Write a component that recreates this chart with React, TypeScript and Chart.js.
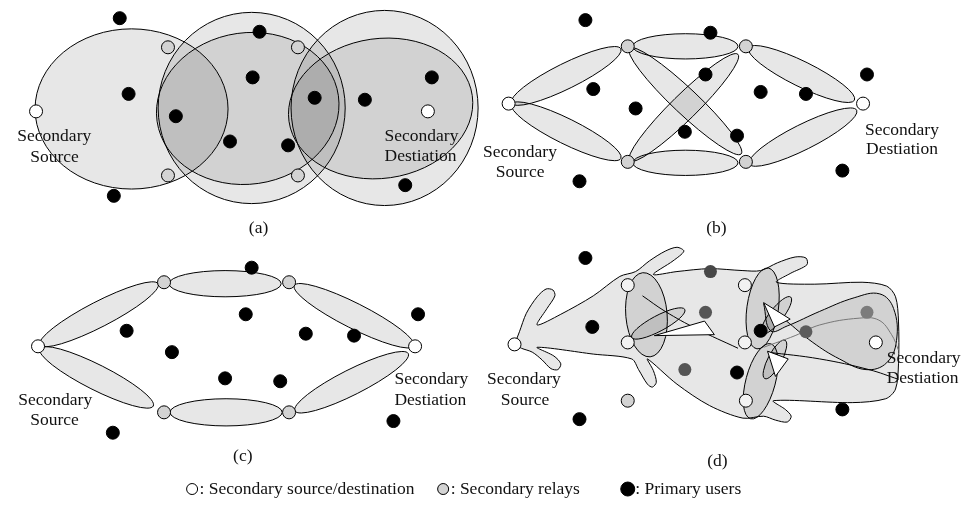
import React, { useEffect, useRef } from "react";
import { Chart, registerables } from "chart.js";

Chart.register(...registerables);

type P = [number, number];

// ---- node positions (diagram units = reference pixels) ----
const primaryUsers: P[] = [
  // (a)
  [114, 11], [256, 25], [123, 89], [249, 72], [171, 112], [226, 138], [285, 142], [312, 93], [363, 95], [431, 72], [404, 183], [108, 194],
  // (b)
  [587, 13], [714, 26], [595, 84], [638, 104], [709, 69], [688, 128], [741, 132], [765, 87], [811, 89], [873, 69], [848, 168], [581, 179],
  // (c)
  [248, 268], [242, 316], [121, 333], [167, 355], [303, 336], [352, 338], [417, 316], [221, 382], [277, 385], [392, 426], [107, 438],
  // (d)
  [587, 258], [594, 329], [765, 333], [741, 376], [848, 414], [581, 424],
];
const shadedUsers: P[] = [[714, 272], [709, 314], [688, 373], [811, 334], [873, 314]];
const shadedColors = ["#474747", "#555555", "#555555", "#5c5c5c", "#7c7c7c"];
const relays: P[] = [
  [163, 41], [163, 173], [295, 41], [295, 173],
  [630, 40], [750, 40], [630, 159], [750, 159],
  [159, 283], [286, 283], [159, 417], [286, 417],
  [630, 405],
];
const lightRelays: P[] = [[630, 286], [749, 286], [630, 345], [749, 345], [750, 405]];
const endpoints: P[] = [
  [29, 107], [427, 107],
  [509, 99], [869, 99],
  [31, 349], [414, 349],
  [515, 347], [882, 345],
];

// ---- coverage ellipses: [cx, cy, rx, ry, rotationDeg] ----
const ellipsesA: number[][] = [
  [126, 104.5, 98, 82.5, 0],
  [248, 103.5, 95, 98.5, 0],
  [244, 104, 93, 78, -8],
  [383, 103.5, 95, 100.5, 0],
  [379, 104, 94, 72, -8],
];
const ellipsesB: number[][] = [
  [567.5, 70.5, 62, 13, -26.4],
  [567.5, 127.5, 62, 13, 26.4],
  [688.5, 40, 53.5, 13, 0],
  [688.5, 160, 53.5, 13, 0],
  [688.5, 96.5, 78, 13, 43.4],
  [687, 103, 77, 13, -44.5],
  [806.5, 68.5, 60, 13, 26.3],
  [808, 133.5, 61, 13, -26.6],
];
const ellipsesC: number[][] = [
  [93, 316, 67.5, 13, -27.3],
  [90.5, 381, 64.5, 13, 26.8],
  [221, 284.5, 57, 13.5, 0],
  [222, 417, 57, 14, 0],
  [352, 317.5, 68, 13, 26.8],
  [349.5, 386, 64.5, 13, -26.8],
];
const ellipsesD: number[][] = [
  [649, 316.5, 21, 43.5, -5],
  [767, 310, 16, 42, 8],
  [765, 385, 15, 40, 15],
  [661, 325.5, 30.5, 8, -28],
  [781, 317, 23.5, 7, -52],
  [779.5, 362.5, 22, 7, -62],
];

// ---- free-form regions of panel (d) ----
const blobMain: P[] = [
  [515, 347], [520, 334], [527, 315], [538, 298], [547, 290], [554, 291], [556, 297], [548, 310], [538, 327],
  [562, 316], [595, 297], [622, 277], [638, 272],
  [652, 261], [668, 251], [680, 247], [687, 251], [676, 261], [656, 275],
  [680, 272], [713, 269], [747, 271], [765, 271],
  [782, 263], [800, 257], [811, 258], [812, 265], [795, 274], [781, 283],
  [820, 285], [868, 283], [893, 287], [902, 298], [905, 323], [905, 367], [902, 393], [892, 403],
  [858, 407], [778, 405],
  [790, 414], [796, 421], [792, 427], [780, 425], [768, 421],
  [747, 423], [713, 410], [680, 388], [650, 362],
  [656, 374], [659, 386], [655, 391], [650, 388], [641, 373], [634, 362],
  [595, 357], [538, 350],
  [555, 359], [562, 367], [559, 373], [552, 372], [543, 363], [533, 355],
  [522, 351], [515, 347],
];
const fishLoop: P[] = [
  [768, 305], [790, 322], [818, 345], [845, 362], [872, 373], [893, 366], [903, 343], [900, 310],
  [886, 295], [860, 299], [825, 313], [792, 328], [775, 333], [768, 305],
];
const grayCurve: P[] = [[768, 350], [800, 338], [825, 327], [865, 320], [885, 322], [898, 337], [905, 353]];
const blackLine2: P[] = [[772, 355], [825, 362], [875, 373], [905, 383]];
const diagLine: P[] = [[645, 297], [668, 313], [700, 331], [742, 351]];
const wedge1: P[] = [[657, 338], [708, 323], [718, 337], [657, 338]];
const wedge2: P[] = [[768, 304], [795, 321], [779, 329], [768, 304]];
const wedge3: P[] = [[772, 354], [793, 362], [780, 380], [772, 354]];

// ---- texts ----
const nodeLabels: [string, number, number][] = [
  ["Secondary", 10, 138], ["Source", 23, 159],
  ["Secondary", 383, 137], ["Destiation", 383, 158],
  ["Secondary", 483, 154], ["Source", 496, 175],
  ["Secondary", 871, 131], ["Destiation", 872, 151],
  ["Secondary", 11, 409], ["Source", 23, 430],
  ["Secondary", 393, 388], ["Destiation", 393, 409],
  ["Secondary", 487, 388], ["Source", 501, 409],
  ["Secondary", 893, 366], ["Destiation", 893, 387],
];
const captions: [string, number, number][] = [
  ["(a)", 255, 232], ["(b)", 720, 232], ["(c)", 239, 467], ["(d)", 721, 472],
];
const legendItems: [string, string, number, number][] = [
  [": Secondary source/destination", "#ffffff", 187.5, 5.5],
  [": Secondary relays", "#d3d3d3", 442.5, 5.5],
  [": Primary users", "#000000", 630, 7],
];

const FONT = '17.5px "Liberation Serif", "Times New Roman", serif';
const FILL = "rgba(0,0,0,0.095)";

const toXY = (pts: P[]) => pts.map(([x, y]) => ({ x, y }));

function drawEllipses(chart: any, list: number[][]) {
  const { ctx } = chart;
  const xs = chart.scales.x;
  const ys = chart.scales.y;
  ctx.save();
  ctx.lineWidth = 1;
  for (const [cx, cy, rx, ry, rot] of list) {
    const px = xs.getPixelForValue(cx);
    const py = ys.getPixelForValue(cy);
    const prx = Math.abs(xs.getPixelForValue(cx + rx) - px);
    const pry = Math.abs(ys.getPixelForValue(cy + ry) - py);
    ctx.beginPath();
    ctx.ellipse(px, py, prx, pry, (rot * Math.PI) / 180, 0, Math.PI * 2);
    ctx.fillStyle = FILL;
    ctx.fill();
    ctx.strokeStyle = "#000";
    ctx.stroke();
  }
  ctx.restore();
}

const BLOB_INDEX = 12;

const diagramPlugin = {
  id: "diagramPlugin",
  beforeDatasetsDraw(chart: any) {
    drawEllipses(chart, ellipsesA);
    drawEllipses(chart, ellipsesB);
    drawEllipses(chart, ellipsesC);
  },
  afterDatasetDraw(chart: any, args: any) {
    if (args.index === BLOB_INDEX) drawEllipses(chart, ellipsesD);
  },
  afterDraw(chart: any) {
    const { ctx } = chart;
    const xs = chart.scales.x;
    const ys = chart.scales.y;
    ctx.save();
    ctx.font = FONT;
    ctx.fillStyle = "#111";
    ctx.textBaseline = "alphabetic";
    ctx.textAlign = "left";
    for (const [t, x, y] of nodeLabels) ctx.fillText(t, xs.getPixelForValue(x), ys.getPixelForValue(y));
    ctx.textAlign = "center";
    for (const [t, x, y] of captions) ctx.fillText(t, xs.getPixelForValue(x), ys.getPixelForValue(y));
    ctx.textAlign = "left";
    for (const [t, color, x, r] of legendItems) {
      const px = xs.getPixelForValue(x);
      const py = ys.getPixelForValue(496);
      ctx.beginPath();
      ctx.arc(px, py, r, 0, Math.PI * 2);
      ctx.fillStyle = color;
      ctx.fill();
      ctx.lineWidth = 1;
      ctx.strokeStyle = "#000";
      ctx.stroke();
      ctx.fillStyle = "#111";
      ctx.fillText(t, px + 7.5, ys.getPixelForValue(501));
    }
    ctx.restore();
  },
};

const pointSet = (data: P[], bg: string | string[], border: string, r = 6.5) => ({
  data: toXY(data),
  showLine: false,
  pointRadius: r,
  pointBackgroundColor: bg,
  pointBorderColor: border,
  pointBorderWidth: 1,
  fill: false,
});

const shapeSet = (data: P[], bg: string | false, border: string, tension: number) => ({
  data: toXY(data),
  showLine: true,
  pointRadius: 0,
  borderColor: border,
  borderWidth: 1,
  backgroundColor: bg || "rgba(0,0,0,0)",
  fill: bg ? "shape" : false,
  tension,
});

export default function App() {
  const ref = useRef<HTMLCanvasElement | null>(null);
  useEffect(() => {
    if (!ref.current) return;
    const chart = new Chart(ref.current, {
      type: "line",
      data: {
        datasets: [
          pointSet(primaryUsers, "#000", "#000"),
          pointSet(shadedUsers, shadedColors, "rgba(0,0,0,0)"),
          pointSet(relays, "#d3d3d3", "#000"),
          pointSet(lightRelays, "#f2f2f2", "#000"),
          pointSet(endpoints, "#ffffff", "#000"),
          shapeSet(wedge3, "#ffffff", "#000", 0),
          shapeSet(wedge2, "#ffffff", "#000", 0),
          shapeSet(wedge1, "#ffffff", "#000", 0),
          shapeSet(diagLine, false, "#000", 0.4),
          shapeSet(blackLine2, false, "#000", 0.4),
          shapeSet(grayCurve, false, "#777", 0.4),
          shapeSet(fishLoop, FILL, "#000", 0.4),
          shapeSet(blobMain, FILL, "#000", 0.3),
        ] as any,
      },
      options: {
        animation: false,
        responsive: false,
        devicePixelRatio: 1,
        events: [],
        layout: { padding: 0 },
        scales: {
          x: { type: "linear", min: 0, max: 969, display: false },
          y: { type: "linear", min: 0, max: 514, reverse: true, display: false },
        },
        plugins: { legend: { display: false }, tooltip: { enabled: false } },
      } as any,
      plugins: [diagramPlugin],
    });
    return () => chart.destroy();
  }, []);
  return (
    <div style={{ position: "fixed", left: 0, top: 0, width: 969, height: 514, background: "#fff" }}>
      <canvas ref={ref} width={969} height={514} style={{ display: "block" }} />
    </div>
  );
}
